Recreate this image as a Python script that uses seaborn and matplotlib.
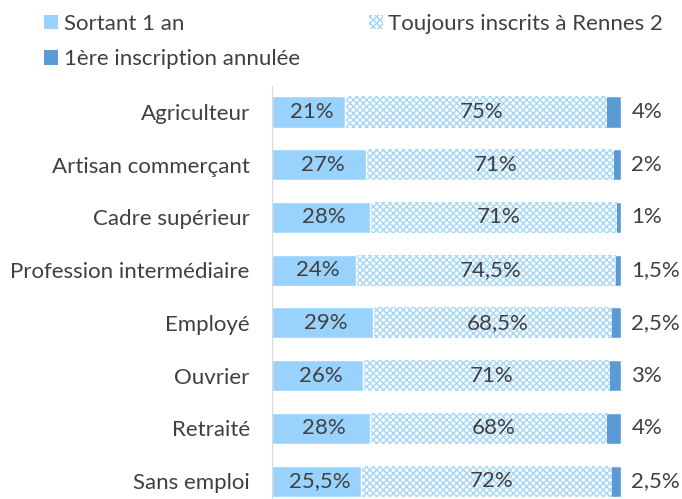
import matplotlib
matplotlib.use("Agg")
import matplotlib.pyplot as plt
import seaborn as sns
from matplotlib.patches import Patch

categories = ["Agriculteur", "Artisan commerçant", "Cadre supérieur",
              "Profession intermédiaire", "Employé", "Ouvrier", "Retraité",
              "Sans emploi"]
sortant = [21, 27, 28, 24, 29, 26, 28, 25.5]
toujours = [75, 71, 71, 74.5, 68.5, 71, 68, 72]
annulee = [4, 2, 1, 1.5, 2.5, 3, 4, 2.5]
series_names = ["Sortant 1 an", "Toujours inscrits à Rennes 2", "1ère inscription annulée"]

c_sortant = "#99d3fd"
c_hatch = "#a4d6f7"
c_annulee = "#5b9bd5"
txt = "#404040"
fs = 16

sns.set_style("white")
plt.rcParams["font.family"] = ["Lato", "DejaVu Sans"]
plt.rcParams["hatch.linewidth"] = 1.0

fig = plt.figure(figsize=(6.82, 4.99), dpi=100)
ax = fig.add_axes([0.3988, 0.0, 0.5117, 0.8284])

# barres cumulées, dessinées de la plus longue à la plus courte
total = [a + b + c for a, b, c in zip(sortant, toujours, annulee)]
cum2 = [a + b for a, b in zip(sortant, toujours)]

sns.barplot(x=total, y=categories, orient="h", color=c_annulee,
            saturation=1, width=0.59, ax=ax)
sns.barplot(x=cum2, y=categories, orient="h", color="white",
            saturation=1, width=0.59, ax=ax)
for p in ax.containers[-1]:
    p.set_hatch("xxxxx")
    p.set_edgecolor(c_hatch)
    p.set_linewidth(0)
sns.barplot(x=sortant, y=categories, orient="h", color=c_sortant,
            saturation=1, width=0.59, ax=ax)


def fmt(v):
    s = f"{v:g}".replace(".", ",")
    return s + "%"


for i in range(len(categories)):
    ax.text(sortant[i] / 2 + 1, i, fmt(sortant[i]), ha="center", va="center",
            fontsize=fs, color=txt)
    ax.text(sortant[i] + toujours[i] / 2 + 1.5, i, fmt(toujours[i]), ha="center",
            va="center", fontsize=fs, color=txt)
    ax.text(103, i, fmt(annulee[i]), ha="left", va="center", fontsize=fs,
            color=txt, clip_on=False)

ax.set_xlim(0, 100)
ax.set_ylim(7.34, -0.5)
ax.set_xticks([])
ax.set_xlabel("")
ax.set_ylabel("")
ax.tick_params(axis="y", length=0, pad=16, labelsize=fs, labelcolor=txt)
for s in ["top", "right", "bottom"]:
    ax.spines[s].set_visible(False)
ax.spines["left"].set_color("#d9d9d9")

handles = [
    Patch(facecolor=c_sortant, edgecolor="none"),
    Patch(facecolor=c_annulee, edgecolor="none"),
    Patch(facecolor="white", edgecolor=c_hatch, hatch="xxxxx", linewidth=0),
]
labels = [series_names[0], series_names[2], series_names[1]]
fig.legend(handles, labels, loc="upper left", bbox_to_anchor=(44 / 682, 1 - 14 / 499),
           ncol=2, frameon=False, fontsize=fs, handlelength=0.63,
           handleheight=0.63, handletextpad=0.25, columnspacing=3.1,
           labelspacing=0.68, labelcolor=txt, borderaxespad=0, borderpad=0)

fig.savefig("out.png", dpi=100)
